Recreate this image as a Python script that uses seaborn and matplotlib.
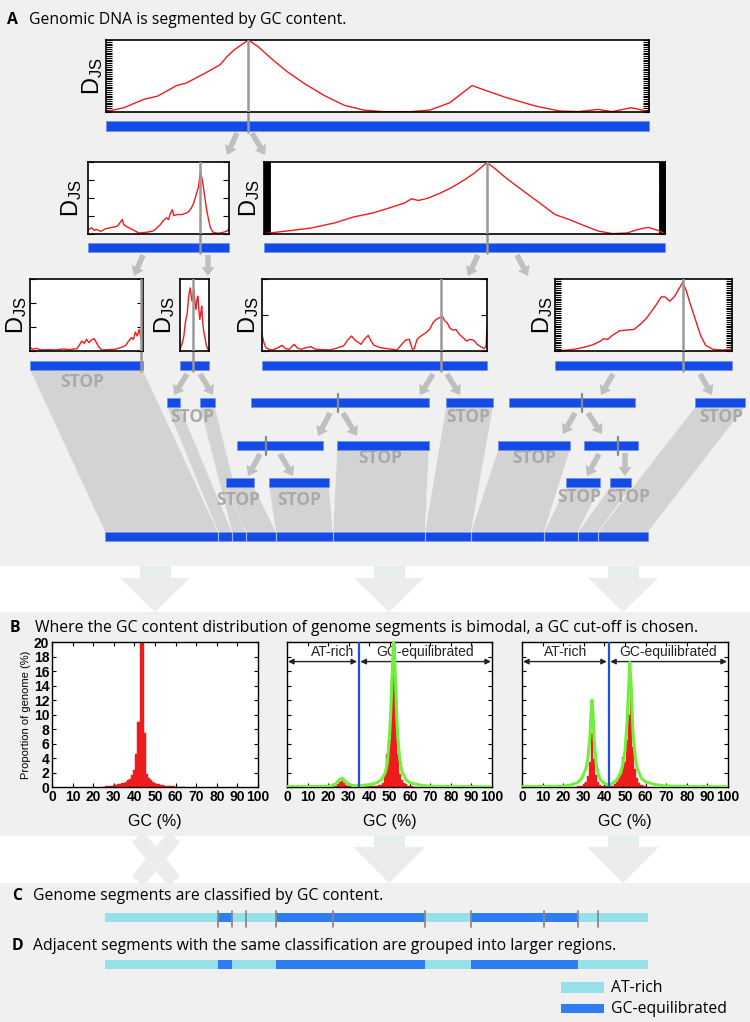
import numpy as np
import matplotlib
matplotlib.use('Agg')
import matplotlib.pyplot as plt
from matplotlib.patches import Rectangle, Polygon, FancyArrow
import seaborn as sns

W, H = 750, 1022

# ==========================================
# Data: D_JS profiles (position along segment 0-1, scaled D_JS)
# ==========================================
top_pos = [0.0, 0.033, 0.069, 0.095, 0.130, 0.148, 0.183, 0.210, 0.223, 0.236, 0.249, 0.262,
           0.280, 0.307, 0.333, 0.368, 0.404, 0.439, 0.474, 0.509, 0.562, 0.597, 0.633, 0.674,
           0.703, 0.738, 0.791, 0.835, 0.870, 0.906, 0.932, 0.967, 1.0]
top_djs = [0.0, 0.055, 0.17, 0.217, 0.364, 0.40, 0.539, 0.654, 0.77, 0.862, 0.931, 1.0,
           0.908, 0.724, 0.562, 0.378, 0.217, 0.088, 0.023, 0.0, 0.0, 0.023, 0.124, 0.364,
           0.286, 0.194, 0.078, 0.009, 0.0, 0.032, 0.0, 0.055, 0.0]

l2a_pos = [0, .024, .044, .057, .091, .125, .159, .193, .209, .226, .243, .253, .267, .311, .361,
           .412, .463, .490, .514, .537, .557, .571, .581, .598, .608, .632, .666, .699, .716, .733,
           .750, .767, .784, .797, .811, .828, .841, .855, .868, .885, .919, .953, .986, 1.0]
l2a_djs = [.046, .083, .046, .06, .032, .069, .083, .096, .106, .151, .197, .128, .106, .06, .009,
           .018, .037, .083, .128, .188, .22, .197, .266, .335, .252, .266, .266, .289, .312, .358,
           .427, .541, .656, .862, .748, .518, .335, .197, .083, .023, .005, .014, .037, .069]

l2b_pos = [0, .057, .117, .177, .224, .272, .320, .350, .368, .385, .409, .439, .469, .499, .523,
           .541, .556, .576, .600, .630, .660, .690, .726, .761, .797, .833, .869, .905, .934, .958,
           .982, 1.0]
l2b_djs = [0, .037, .078, .151, .234, .289, .372, .427, .486, .463, .495, .564, .647, .748, .839,
           .922, .991, .908, .794, .665, .541, .417, .266, .197, .115, .037, 0, .009, .06, .087,
           .046, 0]

l3a_pos = [0, .025, .055, .097, .161, .225, .288, .352, .415, .441, .458, .479, .5, .521, .542,
           .568, .585, .606, .636, .691, .754, .818, .847, .873, .898, .915, .932, .949, .966, .979,
           .992, 1.0]
l3a_djs = [.042, .019, .032, .009, .014, .009, .023, .014, .028, .088, .134, .102, .157, .111, .148,
           .167, .12, .056, .009, .014, .019, .051, .074, .134, .181, .157, .259, .204, .296, .204,
           .111, .713]

l3b_pos = [0, .067, .133, .183, .25, .3, .35, .383, .417, .45, .483, .517, .55, .583, .617, .65,
           .683, .717, .75, .783, .817, .85, .9, .95, 1.0]
l3b_djs = [.019, .088, .204, .389, .528, .759, .875, .782, .69, .806, .852, .667, .574, .713, .759,
           .574, .435, .528, .62, .389, .273, .204, .088, .028, .009]

l3c_pos = [0, .0085, .017, .030, .047, .068, .089, .104, .121, .143, .157, .174, .196, .217, .238,
           .270, .302, .334, .362, .383, .398, .413, .426, .440, .455, .472, .485, .498, .526, .557,
           .6, .621, .638, .655, .668, .677, .689, .706, .728, .745, .760, .774, .787, .802, .813,
           .823, .834, .847, .862, .877, .894, .909, .923, .940, .957, .972, .987, .996, 1.0]
l3c_djs = [.227, .111, .042, .019, .009, .037, .074, .028, .019, .088, .037, .019, .042, .056, .019,
           .014, .009, .037, .065, .157, .204, .148, .12, .088, .157, .213, .134, .074, .042, .028,
           .009, .088, .148, .157, .019, .028, .157, .204, .25, .296, .389, .435, .458, .481, .412,
           .389, .319, .287, .296, .227, .181, .134, .157, .148, .088, .056, .028, .065, .343]

l3d_pos = [0, .054, .108, .162, .216, .257, .276, .297, .324, .365, .405, .446, .481, .514, .546,
           .573, .600, .622, .649, .676, .703, .722, .743, .762, .784, .805, .824, .851, .892, .946,
           1.0]
l3d_djs = [0, .005, .019, .046, .083, .134, .167, .157, .213, .278, .287, .296, .366, .444, .551,
           .644, .75, .75, .69, .759, .875, .954, .829, .667, .505, .343, .204, .074, .019, .009,
           .019]

# ==========================================
# Data: GC histograms (% GC bin, % of genome) and fitted mixtures
# ==========================================
p1_gc = [25, 26, 27, 28, 29, 30, 31, 32, 33, 34, 35, 36, 37, 38, 39, 40, 41, 42, 43, 44,
         45, 46, 47, 48, 49, 50, 51, 52, 53, 54, 55, 56, 57, 58, 59, 60, 61, 62, 63, 64]
p1_pct = [0.05, 0.08, 0.1, 0.15, 0.2, 0.25, 0.3, 0.35, 0.4, 0.5, 0.6, 0.7, 0.9, 1.1, 1.6, 2.4,
          4.5, 9.0, 22, 22, 7.4, 1.8, 1.2, 0.9, 0.7, 0.55, 0.45, 0.35, 0.3, 0.25, 0.2, 0.15,
          0.12, 0.1, 0.08, 0.06, 0.05, 0.04, 0.03, 0.03]

p2_gc = [23, 24, 25, 26, 27, 28, 29, 30, 31, 32, 33, 34, 35, 36, 37, 38, 39, 40, 41, 42,
         43, 44, 45, 46, 47, 48, 49, 50, 51, 52, 53, 54, 55, 56, 57, 58, 59, 60, 61, 62]
p2_pct = [0.1, 0.2, 0.4, 0.7, 0.8, 0.5, 0.3, 0.15, 0.1, 0.1, 0.15, 0.3, 0.1, 0.08, 0.08, 0.1,
          0.1, 0.12, 0.12, 0.15, 0.18, 0.2, 0.25, 0.3, 0.6, 1.6, 4.5, 6.5, 15, 22, 14, 4.5,
          1.8, 1.0, 0.6, 0.35, 0.2, 0.12, 0.08, 0.05]
p2_fit_gc = [0, 10, 20, 22, 24, 26, 27, 28, 30, 32, 34, 36, 40, 44, 46, 48, 49, 50, 50.5, 51,
             51.5, 52, 52.5, 53, 53.5, 54, 55, 56, 58, 60, 65, 70, 80, 100]
p2_fit_pct = [0.05, 0.05, 0.1, 0.2, 0.5, 1.1, 1.2, 0.9, 0.4, 0.2, 0.15, 0.2, 0.3, 0.6, 1.0, 2.0,
              3.4, 7.0, 9.5, 13, 17, 20.5, 18, 14, 10, 7.0, 3.8, 2.2, 1.0, 0.6, 0.25, 0.1, 0.05,
              0.02]

p3_gc = [26, 27, 28, 29, 30, 31, 32, 33, 34, 35, 36, 37, 38, 39, 40, 41, 42, 43, 44, 45,
         46, 47, 48, 49, 50, 51, 52, 53, 54, 55, 56, 57, 58, 59, 60, 61, 62]
p3_pct = [0.05, 0.08, 0.1, 0.2, 0.4, 0.7, 1.5, 3.5, 7.4, 3.8, 1.6, 0.7, 0.3, 0.15, 0.1, 0.08,
          0.08, 0.1, 0.2, 0.4, 0.7, 1.2, 2.4, 4.1, 3.5, 6.5, 10, 12.9, 5.5, 2.5, 1.2, 0.6, 0.3,
          0.15, 0.1, 0.06, 0.04]
p3_fit_gc = [0, 20, 24, 27, 29, 31, 32, 33, 33.5, 34, 34.5, 35, 36, 37, 38, 40, 42, 44, 46, 48,
             49, 50, 51, 51.8, 52.3, 53, 53.5, 54, 55, 56, 58, 60, 65, 70, 80, 100]
p3_fit_pct = [0.05, 0.1, 0.3, 0.6, 1.2, 2.5, 4, 7, 10, 12, 10, 6.5, 3.2, 1.8, 1.0, 0.5, 0.3, 0.5,
              1.0, 2.0, 3.2, 5.0, 9, 14, 17.2, 14, 10, 7, 4, 2.5, 1.2, 0.7, 0.3, 0.15, 0.07, 0.03]

cutoffs = [None, 35, 42]
x_ticks = [0, 10, 20, 30, 40, 50, 60, 70, 80, 90, 100]
y_ticks = [0, 2, 4, 6, 8, 10, 12, 14, 16, 18, 20]

# final segments and their class
seg_class = ['AT', 'GC', 'AT', 'AT', 'GC', 'GC', 'AT', 'GC', 'GC', 'AT', 'AT']

# ==========================================
# Style
# ==========================================
BG = '#f0f0f0'
BLUE = '#144be6'
BLUE_EDGE = '#6d90f0'
RED = '#ee1c1c'
GREEN = '#72ee3c'
ARROW = '#bfbfbf'
POLY = '#d3d3d3'
STOP_C = '#a9a9a9'
SPLIT = '#999999'
AT_C = '#96e0ea'
GC_C = '#2e7ef2'
TFONT = ['Open Sans', 'DejaVu Sans']
TSIZE = 11.3

sns.set_theme(style='white')
plt.rcParams['font.family'] = ['Liberation Sans', 'DejaVu Sans']
plt.rcParams['text.color'] = 'black'
plt.rcParams['axes.labelcolor'] = 'black'
plt.rcParams['xtick.color'] = 'black'
plt.rcParams['ytick.color'] = 'black'
plt.rcParams['mathtext.fontset'] = 'custom'
plt.rcParams['mathtext.rm'] = 'Open Sans'

fig = plt.figure(figsize=(W / 100, H / 100), dpi=100, facecolor='white')
ax = fig.add_axes([0, 0, 1, 1])
ax.set_xlim(0, W)
ax.set_ylim(H, 0)
ax.axis('off')


def px_axes(x0, y0, x1, y1):
    return fig.add_axes([x0 / W, 1 - y1 / H, (x1 - x0) / W, (y1 - y0) / H])


def bar(x0, x1, y0, y1, color=BLUE, edge=BLUE_EDGE, z=3):
    ax.add_patch(Rectangle((x0, y0), x1 - x0, y1 - y0, facecolor=color, edgecolor=edge,
                           lw=0.5, zorder=z))


def block_arrow(x0, y0, x1, y1):
    ax.add_patch(FancyArrow(x0, y0, x1 - x0, y1 - y0, width=5.5, head_width=13, head_length=9,
                            length_includes_head=True, color=ARROW, lw=0, zorder=3))


def stop(x, y):
    ax.text(x, y, 'STOP', ha='center', va='center', color=STOP_C, fontsize=12.5,
            fontweight='bold', family=TFONT, zorder=2)


def title(x_letter, x_text, y, letter, text):
    ax.text(x_letter, y, letter, fontsize=TSIZE, fontweight='bold', family=TFONT, va='center')
    ax.text(x_text, y, text, fontsize=TSIZE, family=TFONT, va='center')


# backgrounds
for y0, y1 in [(0, 566), (612, 836), (883, H)]:
    ax.add_patch(Rectangle((0, y0), W, y1 - y0, facecolor=BG, lw=0, zorder=0))

# big faint arrows in the white bands
for c in [155, 389, 623]:
    ax.add_patch(Rectangle((c - 15, 566), 31, 12, facecolor='#e5eded', lw=0, zorder=0))
    ax.add_patch(Polygon([(c - 35, 578), (c + 35, 578), (c, 612)], closed=True,
                         facecolor='#ececec', lw=0, zorder=0))
for c in [389, 623]:
    ax.add_patch(Rectangle((c - 15, 836), 31, 11, facecolor='#e5eded', lw=0, zorder=0))
    ax.add_patch(Polygon([(c - 36, 847), (c + 36, 847), (c, 883)], closed=True,
                         facecolor='#ececec', lw=0, zorder=0))
ax.plot([138, 174], [837, 881], color='#ececec', lw=11, solid_capstyle='butt', zorder=0)
ax.plot([174, 138], [837, 881], color='#ececec', lw=11, solid_capstyle='butt', zorder=0)

# ==========================================
# Panel A
# ==========================================
title(7, 29, 20, 'A', 'Genomic DNA is segmented by GC content.')

# (pos, djs, box, bar y, split x, n ticks, label x)
profiles = [
    (top_pos, top_djs, (106, 40, 649, 112), (121, 131), 248, 41, 93),
    (l2a_pos, l2a_djs, (88, 162, 229, 234), (243, 252), 200, 5, 72),
    (l2b_pos, l2b_djs, (264, 162, 665, 234), (243, 252), 487, 241, 250),
    (l3a_pos, l3a_djs, (30, 279, 143, 351), (361, 370), 141, 4, 17),
    (l3b_pos, l3b_djs, (180, 279, 209, 351), (361, 370), 193, 0, 165),
    (l3c_pos, l3c_djs, (262, 279, 487, 351), (361, 370), 441, 3, 249),
    (l3d_pos, l3d_djs, (555, 279, 732, 351), (361, 370), 683, 41, 543),
]

for pos, djs, (x0, y0, x1, y1), (b0, b1), split, nt, lx in profiles:
    pa = px_axes(x0, y0, x1, y1)
    pa.set_facecolor('white')
    sns.lineplot(x=pos, y=djs, ax=pa, color=RED, lw=1.0, estimator=None, sort=False)
    frac = (split - x0) / (x1 - x0)
    pa.axvline(frac, color=SPLIT, lw=1.8, zorder=5)
    pa.set_xlim(0, 1)
    pa.set_ylim(-0.005, 1.0)
    pa.set_xticks([])
    pa.set_yticks(list(np.linspace(0, 1, nt)) if nt else [])
    pa.tick_params(axis='y', direction='in', length=4, width=0.8, left=True, right=True,
                   labelleft=False)
    pa.set_xlabel('')
    pa.set_ylabel('')
    for s in pa.spines.values():
        s.set_linewidth(1.2)
        s.set_color('black')
    ax.text(lx, (y0 + y1) / 2, r'$\mathregular{D_{JS}}$', rotation=90, ha='center',
            va='center', fontsize=17)
    bar(x0, x1, b0, b1)
    ax.plot([split, split], [y1, b1 + 1], color=SPLIT, lw=1.8, zorder=4)

# split arrows
arrows = [
    ((237, 133), (227, 155)), ((252, 133), (265, 155)),
    ((143, 255), (134, 276)), ((208, 255), (208, 276)),
    ((478, 255), (468, 276)), ((517, 255), (528, 276)),
    ((187, 374), (174, 395)), ((200, 374), (213, 395)),
    ((433, 374), (420, 395)), ((447, 374), (460, 395)),
    ((613, 374), (601, 395)), ((700, 374), (712, 395)),
    ((330, 413), (318, 436)), ((343, 413), (357, 436)),
    ((575, 413), (563, 434)), ((588, 413), (602, 434)),
    ((260, 454), (248, 476)), ((280, 454), (293, 476)),
    ((599, 454), (587, 476)), ((625, 453), (625, 476)),
]
for (sx, sy), (ex, ey) in arrows:
    block_arrow(sx, sy, ex, ey)

# lower tree bars (x0, x1, y0, y1, split tick)
tree_bars = [
    (167, 180, 398, 407, None), (200, 215, 398, 407, None), (251, 429, 398, 407, 338),
    (446, 493, 398, 407, None), (509, 635, 398, 407, 582), (695, 745, 398, 407, None),
    (237, 323, 441, 450, 266), (337, 429, 441, 450, None), (498, 570, 441, 450, None),
    (584, 638, 441, 450, 618),
    (226, 254, 478, 487, None), (269, 329, 478, 487, None), (566, 600, 478, 487, None),
    (610, 631, 478, 487, None),
]
for x0, x1, y0, y1, t in tree_bars:
    bar(x0, x1, y0, y1)
    if t is not None:
        ax.plot([t, t], [y0 - 4, y1 + 5], color='#888888', lw=1.6, zorder=4)

# leaves -> final segmentation
leaves = [(30, 143, 370), (167, 180, 407), (200, 215, 407), (226, 254, 487), (269, 329, 487),
          (337, 429, 450), (446, 493, 407), (498, 570, 450), (566, 600, 487), (610, 631, 487),
          (695, 745, 407)]
bounds = [105, 218, 232, 246, 276, 333, 425, 471, 544, 578, 598, 648]
for i, (x0, x1, yb) in enumerate(leaves):
    ax.add_patch(Polygon([(x0, yb), (x1, yb), (bounds[i + 1], 532), (bounds[i], 532)],
                         closed=True, facecolor=POLY, edgecolor=BG, lw=0.4, zorder=1))
bar(105, 648, 532, 541)
for b in bounds[1:-1]:
    ax.plot([b, b], [532, 541], color='#9db5f5', lw=0.9, zorder=4)

for x, y in [(82, 382), (192, 417), (468, 417), (721, 417), (380, 458), (534, 458),
             (238, 500), (299, 500), (579, 497), (628, 497)]:
    stop(x, y)

# ==========================================
# Panel B
# ==========================================
title(10, 35, 628, 'B', 'Where the GC content distribution of genome segments is bimodal, '
      'a GC cut-off is chosen.')

hist_boxes = [(52, 642, 258, 787), (287, 642, 492, 787), (522, 642, 728, 787)]
hist_data = [(p1_gc, p1_pct, None, None), (p2_gc, p2_pct, p2_fit_gc, p2_fit_pct),
             (p3_gc, p3_pct, p3_fit_gc, p3_fit_pct)]
at_text_x = [None, 22, 21]

for k, ((x0, y0, x1, y1), (gc, pct, fgc, fpct)) in enumerate(zip(hist_boxes, hist_data)):
    ha_ = px_axes(x0, y0, x1, y1)
    ha_.set_facecolor('white')
    edges = [g - 0.5 for g in gc] + [gc[-1] + 0.5]
    sns.histplot(x=gc, weights=pct, bins=edges, ax=ha_, color=RED, alpha=1,
                 edgecolor=RED, linewidth=0.3)
    if fgc is not None:
        sns.lineplot(x=fgc, y=fpct, ax=ha_, color=GREEN, lw=2.2, estimator=None, sort=False,
                     zorder=4)
        c = cutoffs[k]
        ha_.axvline(c, color='#1f4fe0', lw=1.6, zorder=5)
        ha_.annotate('', xy=(0.5, 17.3), xytext=(c - 0.8, 17.3),
                     arrowprops=dict(arrowstyle='<|-|>', color='#222222', lw=1.0,
                                     mutation_scale=8, shrinkA=0, shrinkB=0))
        ha_.annotate('', xy=(c + 0.8, 17.3), xytext=(99.5, 17.3),
                     arrowprops=dict(arrowstyle='<|-|>', color='#222222', lw=1.0,
                                     mutation_scale=8, shrinkA=0, shrinkB=0))
        ha_.text(at_text_x[k], 18.6, 'AT-rich', ha='center', va='center', fontsize=10,
                 color='#222222')
        ha_.text((c + 100) / 2, 18.6, 'GC-equilibrated', ha='center', va='center',
                 fontsize=10, color='#222222')
    ha_.set_xlim(0, 100)
    ha_.set_ylim(0, 20)
    ha_.set_xticks(x_ticks)
    ha_.set_yticks(y_ticks)
    ha_.tick_params(direction='in', length=3, width=0.8, top=True, right=True, left=True,
                    bottom=True, labelsize=10, pad=2, labelleft=(k == 0))
    for lab in ha_.get_xticklabels() + ha_.get_yticklabels():
        lab.set_fontweight('bold')
    ha_.set_xlabel('GC (%)', fontsize=11.5, labelpad=7)
    ha_.set_ylabel('Proportion of genome (%)' if k == 0 else '', fontsize=8, labelpad=2)
    for s in ha_.spines.values():
        s.set_linewidth(1.0)
        s.set_color('black')

# ==========================================
# Panels C and D
# ==========================================
title(12, 33, 896, 'C', 'Genome segments are classified by GC content.')
title(12, 33, 946, 'D', 'Adjacent segments with the same classification are grouped into '
      'larger regions.')

cls_color = {'AT': AT_C, 'GC': GC_C}
for i, cl in enumerate(seg_class):
    bar(bounds[i], bounds[i + 1], 913, 922, color=cls_color[cl], edge='none')
for b in bounds[1:-1]:
    ax.plot([b, b], [911, 927], color='#8a8a8a', lw=1.3, zorder=4)

# merge neighbours with the same class
start = 0
for i in range(1, len(seg_class) + 1):
    if i == len(seg_class) or seg_class[i] != seg_class[start]:
        bar(bounds[start], bounds[i], 960, 969, color=cls_color[seg_class[start]], edge='none')
        start = i

bar(561, 604, 982, 993, color=AT_C, edge='none')
ax.text(611, 988, 'AT-rich', fontsize=TSIZE, family=TFONT, va='center')
bar(561, 604, 1004, 1013, color=GC_C, edge='none')
ax.text(611, 1009, 'GC-equilibrated', fontsize=TSIZE, family=TFONT, va='center')

fig.savefig('out.png', dpi=100, facecolor='white')
